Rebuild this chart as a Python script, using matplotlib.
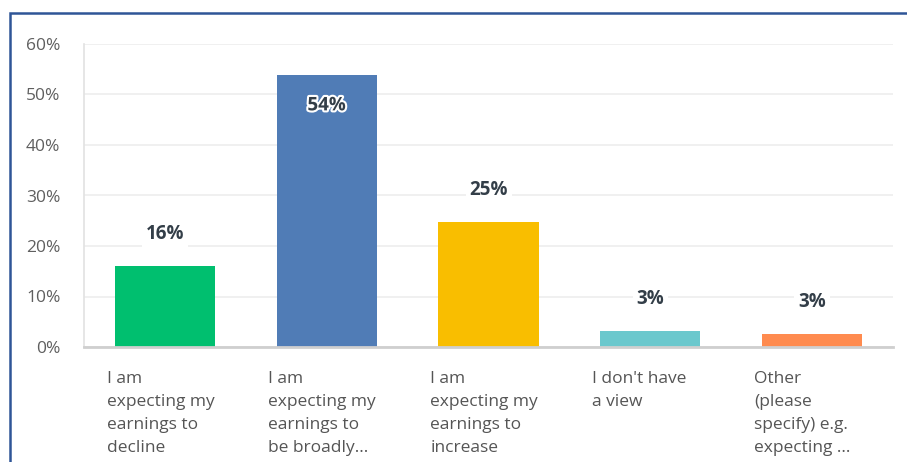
import matplotlib
matplotlib.use('Agg')
import matplotlib.pyplot as plt
import matplotlib.patheffects as pe
from matplotlib.patches import Rectangle

# Chart data
categories = [
    "I am\nexpecting my\nearnings to\ndecline",
    "I am\nexpecting my\nearnings to\nbe broadly...",
    "I am\nexpecting my\nearnings to\nincrease",
    "I don't have\na view",
    "Other\n(please\nspecify) e.g.\nexpecting ...",
]
values = [16.0, 53.9, 24.7, 3.2, 2.6]
value_labels = ["16%", "54%", "25%", "3%", "3%"]
colors = ["#00bf6f", "#507cb6", "#f9be00", "#6bc8cd", "#ff8b4f"]
y_ticks = [0, 10, 20, 30, 40, 50, 60]

plt.rcParams['font.family'] = ['Open Sans', 'DejaVu Sans']

W, H = 907, 462
fig = plt.figure(figsize=(W / 100, H / 100), dpi=100)
ax = fig.add_axes([84 / W, 115 / H, (893 - 84) / W, 303 / H])

x = range(len(values))
bars = ax.bar(x, values, width=0.62, color=colors, zorder=3)

ax.set_xlim(-0.5, len(values) - 0.5)
ax.set_ylim(0, 60)
ax.set_yticks(y_ticks)
ax.set_yticklabels([f"{t}%" for t in y_ticks], fontsize=12.5, color='#5f5f5f')
ax.tick_params(axis='y', length=0, pad=17)
ax.set_xticks([])
ax.grid(axis='y', color='#eeeeee', linewidth=1.2, zorder=0)

for side in ['top', 'right']:
    ax.spines[side].set_visible(False)
ax.spines['left'].set_color('#e2e2e2')
ax.spines['left'].set_linewidth(1.2)
ax.spines['bottom'].set_color('#cfcfcf')
ax.spines['bottom'].set_linewidth(2)
ax.spines['bottom'].set_zorder(4)

# value labels
for i, (v, lab) in enumerate(zip(values, value_labels)):
    if v > 50:
        t = ax.annotate(lab, (i, v), xytext=(0, -22), textcoords='offset points',
                        ha='center', va='center', fontsize=13.5, fontweight='bold',
                        color='#333e48', zorder=5)
        t.set_path_effects([pe.withStroke(linewidth=3, foreground='white')])
    else:
        ax.annotate(lab, (i, v), xytext=(0, 23), textcoords='offset points',
                    ha='center', va='center', fontsize=13.5, fontweight='bold',
                    color='#333e48', zorder=5,
                    bbox=dict(boxstyle='square,pad=0.2', fc='white', ec='none'))

# category labels, left aligned under bars
for i, lab in enumerate(categories):
    ax.text(i - 0.36, -0.08, lab, transform=ax.get_xaxis_transform(),
            ha='left', va='top', fontsize=12.5, color='#555555', linespacing=1.58)

# blue frame around the chart
fig.patches.append(Rectangle((9.5 / W, -0.1), 1.2, (H - 13.5) / H + 0.1,
                             transform=fig.transFigure, fill=False,
                             edgecolor='#2f5597', linewidth=1.8))

fig.savefig('out.png', dpi=100)
